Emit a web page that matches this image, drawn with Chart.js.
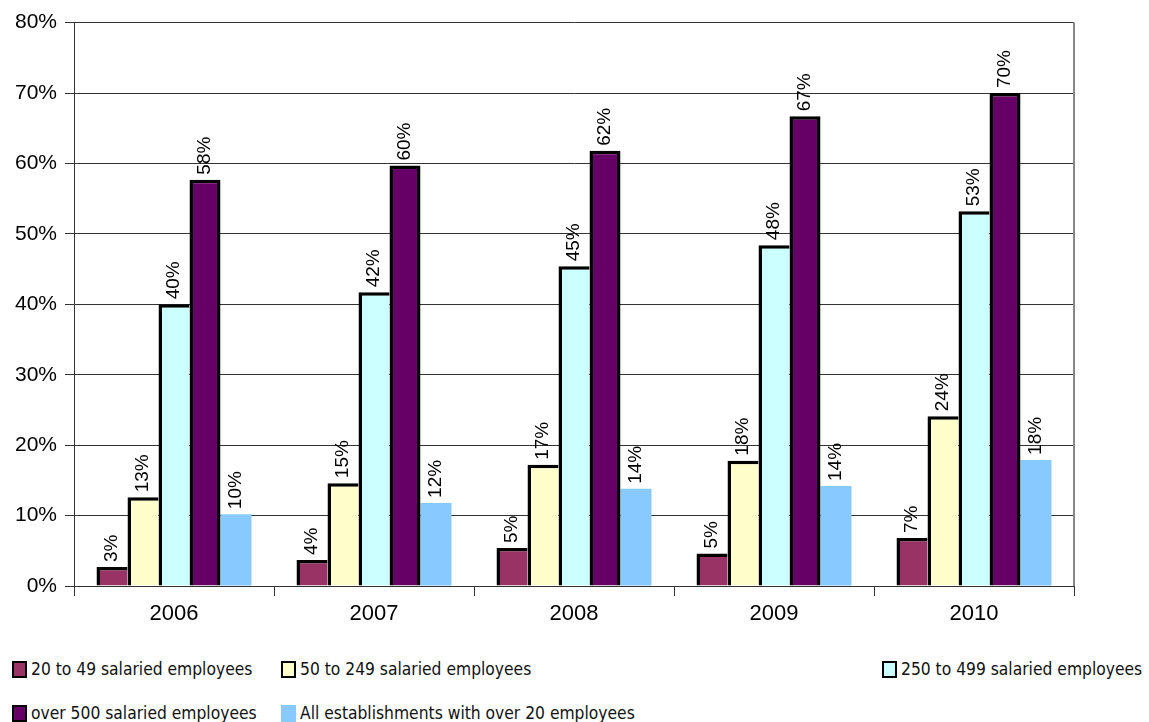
<!DOCTYPE html>
<html>
<head>
<meta charset="utf-8">
<script src="https://cdn.jsdelivr.net/npm/chart.js@4"></script>
<style>
    body { margin: 0; background: #fff; }
    #wrap { position: relative; width: 1149px; height: 722px; }
    #chart { position: absolute; left: 0; top: 2px; }
    .leg { position: absolute; font-family: "DejaVu Sans Condensed", "DejaVu Sans", sans-serif; font-size: 17.3px; color: #111; white-space: nowrap; line-height: 20px; }
    .sw { display: inline-block; width: 11px; height: 13px; border: 2.5px solid #000; vertical-align: -3px; margin-right: 4px; }
</style>
</head>
<body>
<div id="wrap">
    <canvas id="chart" width="1149" height="626"></canvas>
    <div id="legend"></div>
</div>
<script>
const years = ['2006', '2007', '2008', '2009', '2010'];
const emp20to49 = [2.7, 3.7, 5.4, 4.6, 6.8];
const emp50to249 = [12.6, 14.6, 17.2, 17.8, 24.1];
const emp250to499 = [40.0, 41.7, 45.4, 48.4, 53.2];
const empOver500 = [57.7, 59.7, 61.8, 66.7, 70.0];
const allOver20 = [10.2, 11.8, 13.8, 14.2, 17.9];

const seriesNames = [
    '20 to 49 salaried employees',
    '50 to 249 salaried employees',
    '250 to 499 salaried employees',
    'over 500 salaried employees',
    'All establishments with over 20 employees'
];
const colors = ['#993366', '#FFFFCC', '#CCFFFF', '#660066', '#88CAFF'];

const barLabels = {
    id: 'barLabels',
    afterDatasetsDraw(chart) {
        const ctx = chart.ctx;
        ctx.save();
        ctx.font = '19px "Liberation Sans", Arial, sans-serif';
        ctx.fillStyle = '#000';
        ctx.textAlign = 'left';
        ctx.textBaseline = 'middle';
        chart.data.datasets.forEach((ds, i) => {
            const meta = chart.getDatasetMeta(i);
            meta.data.forEach((bar, j) => {
                ctx.save();
                ctx.translate(bar.x, bar.y - 5);
                ctx.rotate(-Math.PI / 2);
                ctx.fillText(Math.round(ds.data[j]) + '%', 0, 0);
                ctx.restore();
            });
        });
        ctx.restore();
    }
};

const plotBorder = {
    id: 'plotBorder',
    afterDraw(chart) {
        const a = chart.chartArea;
        const ctx = chart.ctx;
        ctx.save();
        ctx.strokeStyle = '#888';
        ctx.lineWidth = 2;
        ctx.beginPath();
        ctx.moveTo(a.right, a.top);
        ctx.lineTo(a.right, a.bottom);
        ctx.stroke();
        ctx.restore();
    }
};

const dataLists = [emp20to49, emp50to249, emp250to499, empOver500, allOver20];
const datasets = dataLists.map((values, i) => ({
    label: seriesNames[i],
    data: values,
    backgroundColor: colors[i],
    borderColor: '#000',
    borderSkipped: false,
    borderWidth: i === 4 ? 0 : (i === 3 ? { top: 3.5, left: 3.5, right: 3.5, bottom: 0 } : { top: 3.5, left: 3.5, right: 0, bottom: 0 }),
    categoryPercentage: 0.775,
    barPercentage: 1
}));

new Chart(document.getElementById('chart'), {
    type: 'bar',
    data: { labels: years, datasets: datasets },
    options: {
        responsive: false,
        animation: false,
        layout: { padding: { top: 12, right: 75, left: 0, bottom: 0 } },
        plugins: {
            legend: { display: false },
            tooltip: { enabled: false }
        },
        scales: {
            x: {
                afterFit(scale) { scale.height = 42; },
                grid: { display: true, drawOnChartArea: false, color: '#333', tickLength: 10, offset: true },
                border: { color: '#333', width: 1 },
                ticks: { color: '#000', font: { family: 'Liberation Sans', size: 22 }, padding: 5 }
            },
            y: {
                min: 0,
                max: 80,
                afterFit(scale) { scale.width = 74; },
                grid: { color: '#333', tickLength: 9 },
                border: { color: '#333', width: 1 },
                ticks: {
                    stepSize: 10,
                    color: '#000',
                    font: { family: 'Liberation Sans', size: 21 },
                    padding: 8,
                    callback: v => v + '%'
                }
            }
        }
    },
    plugins: [barLabels, plotBorder]
});

// legend laid out like the original, in three slots
const legendPos = [
    [12, 659], [281, 659], [882, 659],
    [12, 703], [281, 703]
];
const legendEl = document.getElementById('legend');
seriesNames.forEach((name, i) => {
    const item = document.createElement('div');
    item.className = 'leg';
    item.style.left = legendPos[i][0] + 'px';
    item.style.top = legendPos[i][1] + 'px';
    const sw = document.createElement('span');
    sw.className = 'sw';
    sw.style.background = colors[i];
    if (i === 4) sw.style.borderColor = colors[i];
    item.appendChild(sw);
    item.appendChild(document.createTextNode(name));
    legendEl.appendChild(item);
});
</script>
</body>
</html>
